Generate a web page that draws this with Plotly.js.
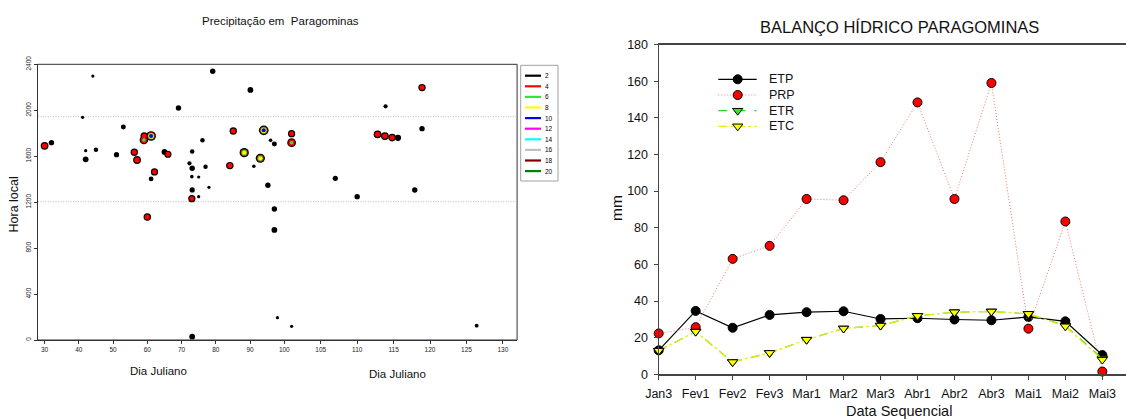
<!DOCTYPE html>
<html>
<head>
<meta charset="utf-8">
<script src="https://cdn.plot.ly/plotly-3.0.1.min.js"></script>
<style>html,body{margin:0;padding:0;background:#fff;}#chart{width:1126px;height:419px;}</style>
</head>
<body>
<div id="chart"></div>
<script>
// ---------------- DATA: left panel (precipitation events, contour levels) ----------------
const eventDay  = [30,32,44.1,41.1,42,42,45,53,51,56.2,57,59.1,59,61.1,61.1,62.1,60,65,66,69.1,79.1,90.1,73.1,72.3,73.1,73,75,73.1,78,75,73,76.1,77,85.1,84.1,88.3,91.1,93,94,96,97.1,95.2,101,101,97.1,97.1,98,101,73.1,126.4,107,110,113.9,112.8,113.8,114.8,115.6,118.9,118.9,117.9];
const eventHour = [1690,1718,2298,1938,1648,1573,1657,1854,1613,1634,1567,1776,1741,1776,1402,1463,1071,1637,1617,2020,2339,2177,1640,1538,1495,1422,1419,1306,1329,1248,1230,1738,1509,1820,1518,1631,1512,1582,1825,1738,1706,1347,1796,1718,1140,958,194,119,29,125,1407,1248,2034,1790,1775,1762,1760,2197,1840,1306];
const eventPeak = [5,3,2.2,2.2,2.2,3.2,2.6,2.8,2.9,4.5,5,4.6,6.5,10.5,2.7,4.4,4.6,3.2,4.3,3,3,3.2,2.6,2.5,3,2.3,2.2,2.9,2.2,2.2,4.3,2.6,2.6,4.5,4.6,8.5,2.3,8.2,10.5,2.3,2.8,3,4.4,6.8,3,3.2,2.2,2.2,3.2,2.4,2.9,3,2.5,5,5,4.8,3.5,4.5,3,3];
const contourLevels = [2,4,6,8,10,12,14,16,18,20];
const levelColors   = ['#000000','#ff0000','#33e633','#ffff00','#0000ff','#ff00ff','#00ffff','#c0c0c0','#800000','#008000'];
const dayTicksA  = [30,40,50,60,70,80,90,100];
const dayTicksB  = [105,110,115,120,125,130];
const hourTicks  = [0,400,800,1200,1600,2000,2400];
const guideHours = [1204,1944];

// ---------------- DATA: right panel (water balance) ----------------
const periods = ['Jan3','Fev1','Fev2','Fev3','Mar1','Mar2','Mar3','Abr1','Abr2','Abr3','Mai1','Mai2','Mai3'];
const ETP = [13.1,34.6,25.4,32.4,33.9,34.4,30.2,30.6,29.9,29.5,31.3,28.9,10.5];
const PRP = [22.3,25.7,63.0,70.1,95.7,95.0,115.8,148.4,95.7,159.0,24.9,83.4,1.5];
const ETR = [12.9,23.3,6.7,11.7,18.9,25.0,26.6,31.9,33.9,34.3,33.0,26.5,8.7];
const ETC = [12.9,23.3,6.7,11.7,18.9,25.0,26.6,31.9,33.9,34.3,33.0,26.2,8.0];
const seriesNames = ['ETP','PRP','ETR','ETC'];

// ---------------- helpers ----------------
const W = 1126, H = 419;
const FONT = 'Liberation Sans, Arial, sans-serif';
const px = x => x / W;
const py = y => 1 - y / H;

function ringSize(p, li) {
  const s2 = 2.4 + 9 * (1 - 2 / p);
  if (li === 0) return s2;
  const n = Math.floor(p / 2) - 1;
  const s0 = Math.max(s2 - 2.4, 1.5);
  if (n <= 1) return s0;
  const frac = (li - 1) / (n - 1);
  return s0 * (1 - 0.45 * frac);
}

const traces = [];
// blobs as nested contour-coloured markers, split across the two day segments
[['x', d => d <= 100], ['x2', d => d > 100]].forEach(([ax, keep]) => {
  contourLevels.forEach((L, li) => {
    const xs = [], ys = [], ss = [];
    eventDay.forEach((d, i) => {
      if (keep(d) && eventPeak[i] >= L) {
        xs.push(d); ys.push(eventHour[i]); ss.push(ringSize(eventPeak[i], li));
      }
    });
    if (xs.length) {
      traces.push({type:'scatter', mode:'markers', x:xs, y:ys, xaxis:ax, yaxis:'y',
        marker:{size:ss, color:levelColors[li], opacity:1, line:{width:0}}, cliponaxis:false, hoverinfo:'skip'});
    }
  });
});

// right panel series
const styles = {
  ETP:{line:{color:'#000000', width:1.2, dash:'solid'}, marker:{symbol:'circle', color:'#000000', size:9, opacity:1, line:{color:'#000', width:1}}},
  PRP:{line:{color:'rgb(235,120,120)', width:1, dash:'1px,2px'}, marker:{symbol:'circle', color:'#ff0000', size:9, opacity:1, line:{color:'#000', width:1}}},
  ETR:{line:{color:'rgb(40,220,40)', width:1.2, dash:'dash'}, marker:{symbol:'triangle-down', color:'#33e633', size:9, opacity:1, line:{color:'#000', width:1}}},
  ETC:{line:{color:'rgb(235,235,0)', width:1.2, dash:'dashdot'}, marker:{symbol:'triangle-down', color:'#ffff00', size:9, opacity:1, line:{color:'#000', width:1}}}
};
const seriesData = {ETP, PRP, ETR, ETC};
seriesNames.forEach(n => {
  traces.push({type:'scatter', mode:'lines+markers', name:n, x:periods, y:seriesData[n],
    xaxis:'x3', yaxis:'y3', line:styles[n].line, marker:styles[n].marker, cliponaxis:false});
});

// right legend samples (pixel axis x4/y4)
const legRowY = [79.3, 95, 110.7, 126.3];
const annotations = [];
const shapes = [];
seriesNames.forEach((n, i) => {
  const y = legRowY[i];
  traces.push({type:'scatter', mode:'lines', x:[718.3,756.7], y:[y,y], xaxis:'x4', yaxis:'y4', line:styles[n].line, hoverinfo:'skip'});
  traces.push({type:'scatter', mode:'markers', x:[737.7], y:[y], xaxis:'x4', yaxis:'y4', marker:styles[n].marker, hoverinfo:'skip', cliponaxis:false});
  annotations.push({xref:'x4', yref:'y4', x:767.3, y:y, text:n, showarrow:false, xanchor:'left', yanchor:'middle', font:{family:FONT, size:12.5, color:'#111'}});
});

// left legend (contour levels)
shapes.push({type:'rect', xref:'x4', yref:'y4', x0:520.7, x1:558, y0:65.3, y1:181, line:{color:'#a0a0a0', width:1}, fillcolor:'rgba(0,0,0,0)'});
contourLevels.forEach((L, i) => {
  const y = 75.7 + i * 10.6;
  shapes.push({type:'line', xref:'x4', yref:'y4', x0:525, x1:541, y0:y, y1:y, line:{color:levelColors[i], width:2.2}});
  annotations.push({xref:'x4', yref:'y4', x:543.3, y:y, text:String(L), showarrow:false, xanchor:'left', yanchor:'middle', font:{family:FONT, size:6.5, color:'#000'}});
});

// left frame and guide lines
shapes.push({type:'rect', xref:'x4', yref:'y4', x0:37.5, x1:517.1, y0:64.3, y1:340, line:{color:'#333', width:1}, fillcolor:'rgba(0,0,0,0)'});
guideHours.forEach(h => {
  shapes.push({type:'line', xref:'x4', yref:'y', x0:38, x1:516, y0:h, y1:h, layer:'below', line:{color:'rgb(220,195,195)', width:1.2, dash:'1px,1.5px'}});
});

// titles and axis labels
const txt = (x, y, text, size, extra) => Object.assign({xref:'x4', yref:'y4', x, y, text, showarrow:false, xanchor:'center', yanchor:'middle', font:{family:FONT, size, color:'#111'}}, extra||{});
annotations.push(txt(280.7, 21, 'Precipitação em&nbsp;&nbsp;Paragominas', 11.5));
annotations.push(txt(13.5, 205, 'Hora local', 12.5, {textangle:-90}));
annotations.push(txt(158, 371, 'Dia Juliano', 11.5));
annotations.push(txt(397, 374, 'Dia Juliano', 11.5));
annotations.push(txt(899, 26.5, 'BALANÇO HÍDRICO PARAGOMINAS', 16.5));
annotations.push(txt(616, 208, 'mm', 15.5, {textangle:-90}));
annotations.push(txt(899, 410.5, 'Data Sequencial', 14.5));

const smallAxis = {showgrid:false, zeroline:false, showline:true, linecolor:'#333', linewidth:1,
  ticks:'outside', ticklen:3, tickcolor:'#333', tickwidth:1, tickfont:{family:FONT, size:6.5, color:'#222'}, fixedrange:true};
const bigAxis = {showgrid:false, zeroline:false, showline:true, linecolor:'#444', linewidth:1.2,
  ticks:'outside', ticklen:4, tickcolor:'#444', tickwidth:1, tickfont:{family:FONT, size:12.5, color:'#111'}, fixedrange:true};

const layout = {
  width:W, height:H, margin:{l:0, r:0, t:0, b:0}, paper_bgcolor:'#fff', plot_bgcolor:'rgba(0,0,0,0)',
  showlegend:false, font:{family:FONT, color:'#111'},
  xaxis: Object.assign({}, smallAxis, {domain:[px(37.5), px(284.47)], range:[27.93,100.05], anchor:'y', tickmode:'array', tickvals:dayTicksA, ticktext:dayTicksA.map(String)}),
  xaxis2: Object.assign({}, smallAxis, {domain:[px(284.47), px(517.1)], range:[100.02,131.95], anchor:'y', tickmode:'array', tickvals:dayTicksB, ticktext:dayTicksB.map(String)}),
  yaxis: Object.assign({}, smallAxis, {domain:[py(340), py(64.3)], range:[0,2400], anchor:'x', tickmode:'array', tickvals:hourTicks, ticktext:hourTicks.map(String), tickangle:-90}),
  xaxis3: Object.assign({}, bigAxis, {domain:[px(658.7), 1], range:[0,12.64], anchor:'y3', type:'category', mirror:true, ticklabelstandoff:3}),
  yaxis3: Object.assign({}, bigAxis, {domain:[py(374.3), py(44.5)], range:[0,180], anchor:'x3', dtick:20, tick0:0, ticklabelstandoff:3}),
  xaxis4: {domain:[0,1], range:[0,W], anchor:'y4', visible:false, fixedrange:true},
  yaxis4: {domain:[0,1], range:[H,0], anchor:'x4', visible:false, fixedrange:true},
  shapes, annotations
};

Plotly.newPlot('chart', traces, layout, {displayModeBar:false, staticPlot:true});
</script>
</body>
</html>
